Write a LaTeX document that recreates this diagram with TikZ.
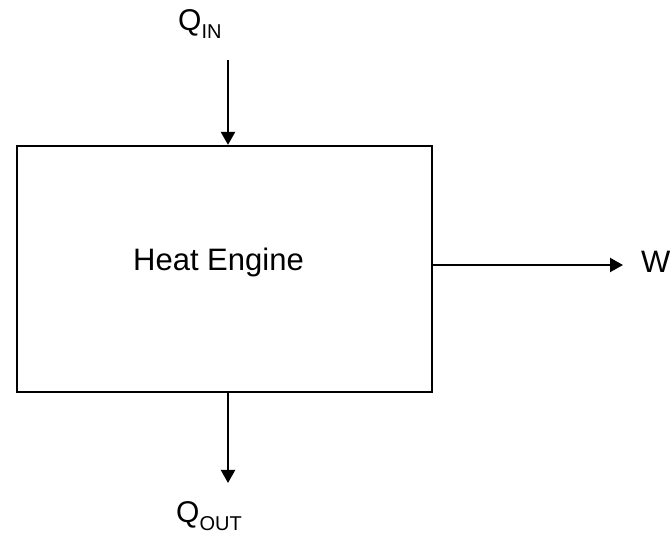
\documentclass[tikz,border=0pt]{standalone}
\usepackage{fontspec}
\setmainfont{Liberation Sans}
\usetikzlibrary{arrows.meta}
\tikzset{
  arr/.style={line width=2.2pt, -{Triangle[length=13pt,width=14pt]}},
  lbl/.style={inner sep=0pt, anchor=base west, font=\fontsize{30}{32}\selectfont},
  enginebox/.style={draw, line width=2.2pt, minimum width=415pt, minimum height=246pt, inner sep=0pt}
}
\newcommand{\subtxt}[1]{\raisebox{-8pt}{\fontsize{20}{21}\selectfont #1}}
\begin{document}
\begin{tikzpicture}[x=1pt,y=1pt]
\useasboundingbox (0,0) rectangle (670,-534);
\node[enginebox] (box) at (224.5,-269) {};
\node[inner sep=0pt, anchor=base, font=\fontsize{31}{33}\selectfont] (lab) at (218.5,-271) {Heat Engine};
\node[lbl] (qin) at (178,-31) {Q\subtxt{IN}};
\node[lbl] (qout) at (176,-522.5) {Q\subtxt{OUT}};
\node[lbl, font=\fontsize{31}{33}\selectfont] (w) at (641,-273) {W};
\coordinate (inStart) at (228,-60);
\coordinate (outEnd) at (228,-483);
\coordinate (wEnd) at (623,-265);
\draw[arr] (inStart) -- (inStart |- box.north);
\draw[arr] (outEnd |- box.south) -- (outEnd);
\draw[arr] (wEnd -| box.east) -- (wEnd);
\end{tikzpicture}
\end{document}
